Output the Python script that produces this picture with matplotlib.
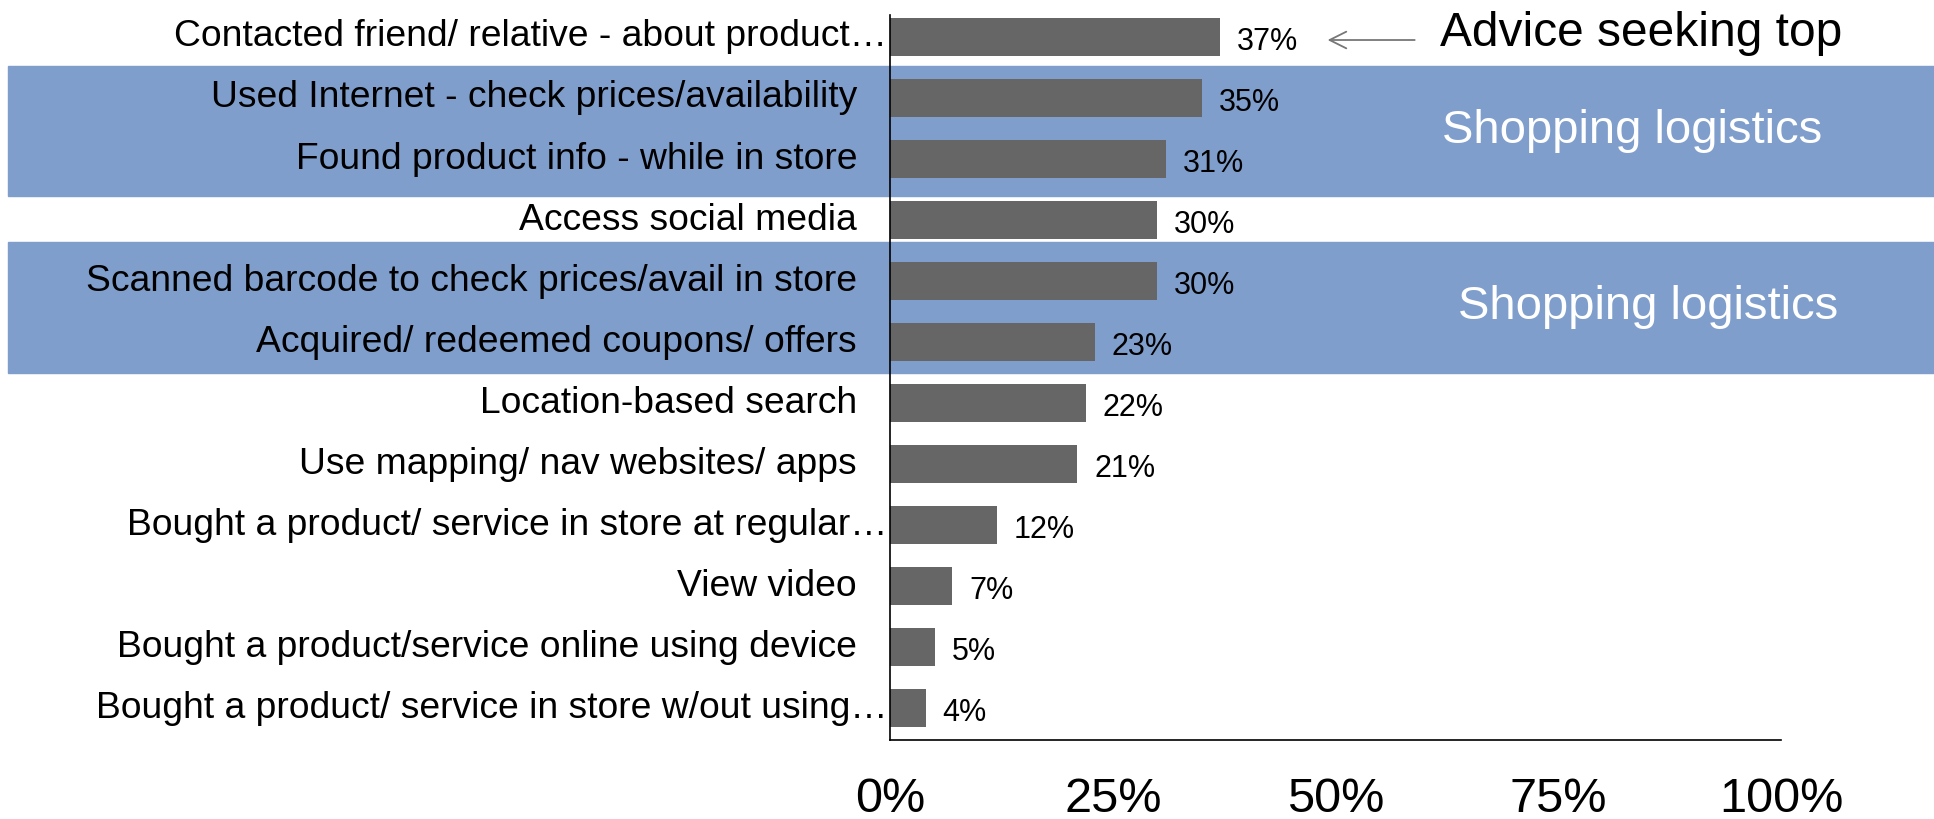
import matplotlib
matplotlib.use('Agg')
import matplotlib.pyplot as plt
import matplotlib.transforms as mtransforms
from matplotlib.patches import Rectangle

plt.rcParams['font.family'] = ['Liberation Sans Narrow', 'Liberation Sans', 'DejaVu Sans']

# survey answers, top to bottom
labels = ['Contacted friend/ relative - about product\u2026',
          'Used Internet - check prices/availability',
          'Found product info - while in store',
          'Access social media',
          'Scanned barcode to check prices/avail in store',
          'Acquired/ redeemed coupons/ offers',
          'Location-based search',
          'Use mapping/ nav websites/ apps',
          'Bought a product/ service in store at regular\u2026',
          'View video',
          'Bought a product/service online using device',
          'Bought a product/ service in store w/out using\u2026']
values = [0.37, 0.35, 0.31, 0.30, 0.30, 0.23, 0.22, 0.21, 0.12, 0.07, 0.05, 0.04]
ticks = [0, 0.25, 0.5, 0.75, 1.0]
tick_labels = ['0%', '25%', '50%', '75%', '100%']

# highlighted groups (row spans) and their captions
bands = [(0.47, 2.6), (3.36, 5.5)]
band_text = ['Shopping logistics', 'Shopping logistics']

band_col = '#7f9ecc'
bar_col = '#666666'

fig = plt.figure(figsize=(19.34, 8.19), dpi=100)
ax = fig.add_axes([0.4602, 0.0965, 0.9209 - 0.4602, 0.9817 - 0.0965])

y = list(range(len(labels)))
ax.set_ylim(11.52, -0.36)
ax.set_xlim(0, 1)

# blue background bands across the whole figure width
trans = mtransforms.blended_transform_factory(fig.transFigure, ax.transData)
for (y0, y1), txt, xc in zip(bands, band_text, [0.8438, 0.852]):
    r = Rectangle((0.004, y0), 0.996, y1 - y0, transform=trans, color=band_col,
                  zorder=0, clip_on=False)
    fig.add_artist(r)
    fig.text(xc, (y0 + y1) / 2, txt, transform=trans, color='white', fontsize=34,
             ha='center', va='center', zorder=1)

ax.patch.set_alpha(0)
ax.barh(y, values, height=0.63, color=bar_col, zorder=3)

for yi, v in zip(y, values):
    ax.text(v + 0.019, yi + 0.08, '{:.0f}%'.format(v * 100), fontsize=22,
            va='center', ha='left', zorder=4)

ax.set_yticks([])
ylab_trans = mtransforms.blended_transform_factory(ax.transAxes, ax.transData)
for yi, lab in zip(y, labels):
    off = 0.003 if lab.endswith('\u2026') else 0.037
    ax.text(-off, yi, lab, transform=ylab_trans,
            fontsize=26.8, ha='right', va='center', zorder=4)

ax.set_xticks(ticks)
ax.set_xticklabels(tick_labels, fontsize=35)
ax.tick_params(axis='x', length=0, pad=27)

for s in ['top', 'right']:
    ax.spines[s].set_visible(False)
ax.spines['left'].set_linewidth(1.2)
ax.spines['bottom'].set_linewidth(1.2)
ax.spines['left'].set_zorder(5)

# callout on the top bar
ax.annotate('', xy=(0.488, 0.05), xytext=(0.592, 0.05),
            arrowprops=dict(arrowstyle='->', color='#777777', lw=1.3,
                            mutation_scale=30))
ax.text(0.617, -0.05, 'Advice seeking top', fontsize=34.5, ha='left', va='center')

fig.savefig('out.png', dpi=100)
